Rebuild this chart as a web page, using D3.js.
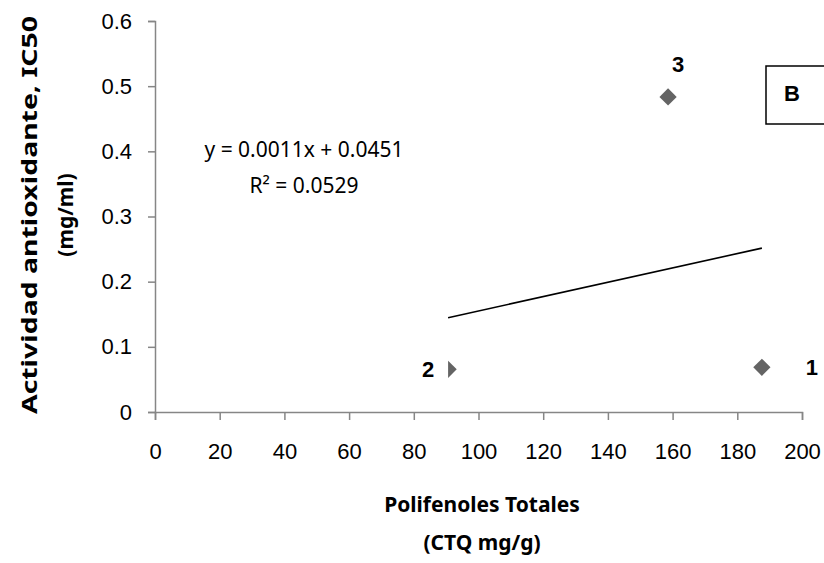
<!DOCTYPE html>
<html>
<head>
<meta charset="utf-8">
<script src="https://cdn.jsdelivr.net/npm/d3@7"></script>
<style>
  body { margin: 0; background: #fff; }
  svg { display: block; }
</style>
</head>
<body>
<div id="chart"></div>
<script>
// data
var xVals = [187.6, 90.6, 158.6];
var yVals = [0.0686, 0.0655, 0.4834];
var pointNames = ["1", "2", "3"];
var xTicks = [0, 20, 40, 60, 80, 100, 120, 140, 160, 180, 200];
var yTicks = [0, 0.1, 0.2, 0.3, 0.4, 0.5, 0.6];
var trendSlope = 0.0011;
var trendIntercept = 0.0451;
var eqLines = ["y = 0.0011x + 0.0451", "R\u00b2 = 0.0529"];

var width = 824, height = 563;
var tickFont = "'Liberation Sans', Arial, sans-serif";
var titleFont = "'Comic Sans MS', 'Noto Sans', 'DejaVu Sans', sans-serif";

var svg = d3.select("#chart").append("svg")
    .attr("width", width)
    .attr("height", height);

var x = d3.scaleLinear().domain([0, 200]).range([155, 802]);
var y = d3.scaleLinear().domain([0, 0.6]).range([412, 21]);

// axes
var xAxis = svg.append("g")
    .attr("transform", "translate(0," + y(0) + ")")
    .call(d3.axisBottom(x).tickValues(xTicks).tickSize(8).tickPadding(23).tickFormat(d3.format("d")));
var yAxis = svg.append("g")
    .attr("transform", "translate(" + x(0) + ",0)")
    .call(d3.axisLeft(y).tickValues(yTicks).tickSize(7).tickPadding(16)
        .tickFormat(function(d){ return d === 0 ? "0" : d3.format(".1f")(d); }));

[xAxis, yAxis].forEach(function(a){
    a.select(".domain").attr("stroke", "#868686").attr("stroke-width", 1.5);
    a.selectAll(".tick line").attr("stroke", "#868686").attr("stroke-width", 1.5);
    a.selectAll(".tick text")
        .attr("fill", "#000")
        .style("font-family", tickFont)
        .style("font-size", "22px");
});
xAxis.selectAll(".tick text").attr("dy", "0.71em");

// trend line
var xMin = d3.min(xVals), xMax = d3.max(xVals);
svg.append("line")
    .attr("x1", x(xMin))
    .attr("y1", y(trendSlope * xMin + trendIntercept))
    .attr("x2", x(xMax))
    .attr("y2", y(trendSlope * xMax + trendIntercept))
    .attr("stroke", "#000")
    .attr("stroke-width", 1.6);

// points
var pts = xVals.map(function(v, i){ return {x: v, y: yVals[i], name: pointNames[i]}; });
var diamond = d3.symbol().type(d3.symbolDiamond2).size(190);
svg.selectAll("path.pt")
    .data(pts)
    .enter().append("path")
    .attr("class", "pt")
    .attr("transform", function(d){ return "translate(" + x(d.x) + "," + y(d.y) + ")"; })
    .attr("d", diamond)
    .attr("fill", "#646464");

// point labels (label offsets as in the picture)
var labelOffsets = [[50, 0], [-20, 0], [10, -33]];
pts.forEach(function(d, i){
    var cx = x(d.x) + labelOffsets[i][0];
    var cy = y(d.y) + labelOffsets[i][1];
    if (i === 1) {
        // white label box covering the left half of the marker
        svg.append("rect")
            .attr("x", cx - 12)
            .attr("y", cy - 12)
            .attr("width", x(d.x) - (cx - 12))
            .attr("height", 24)
            .attr("fill", "#fff");
    }
    svg.append("text")
        .attr("x", cx)
        .attr("y", cy)
        .attr("dy", "0.36em")
        .attr("text-anchor", "middle")
        .style("font-family", tickFont)
        .style("font-weight", "bold")
        .style("font-size", "22px")
        .text(d.name);
});

// equation
svg.selectAll("text.eq")
    .data(eqLines)
    .enter().append("text")
    .attr("class", "eq")
    .attr("x", 304)
    .attr("y", function(d, i){ return 157 + i * 36; })
    .attr("text-anchor", "middle")
    .style("font-family", "'Noto Sans', sans-serif")
    .style("font-size", "21px")
    .text(function(d){ return d; });

// panel letter box
svg.append("rect")
    .attr("x", 766)
    .attr("y", 66)
    .attr("width", 70)
    .attr("height", 58)
    .attr("fill", "#fff")
    .attr("stroke", "#000")
    .attr("stroke-width", 1.5);
svg.append("text")
    .attr("x", 792)
    .attr("y", 93)
    .attr("dy", "0.36em")
    .attr("text-anchor", "middle")
    .style("font-family", tickFont)
    .style("font-weight", "bold")
    .style("font-size", "22px")
    .text("B");

// axis titles
var xTitle = svg.append("text")
    .attr("text-anchor", "middle")
    .style("font-family", titleFont)
    .style("font-weight", "bold")
    .style("font-size", "21px");
xTitle.append("tspan").attr("x", 482).attr("y", 512).text("Polifenoles Totales");
xTitle.append("tspan").attr("x", 482).attr("y", 550).text("(CTQ mg/g)");

var yTitle = svg.append("text")
    .attr("transform", "translate(0,215) rotate(-90)")
    .attr("text-anchor", "middle")
    .style("font-family", titleFont)
    .style("font-weight", "bold")
    .style("font-size", "21px");
yTitle.append("tspan").attr("x", 0).attr("y", 37)
    .attr("textLength", 398).attr("lengthAdjust", "spacingAndGlyphs")
    .text("Actividad antioxidante, IC50");
yTitle.append("tspan").attr("x", 0).attr("y", 73).text("(mg/ml)");
</script>
</body>
</html>
